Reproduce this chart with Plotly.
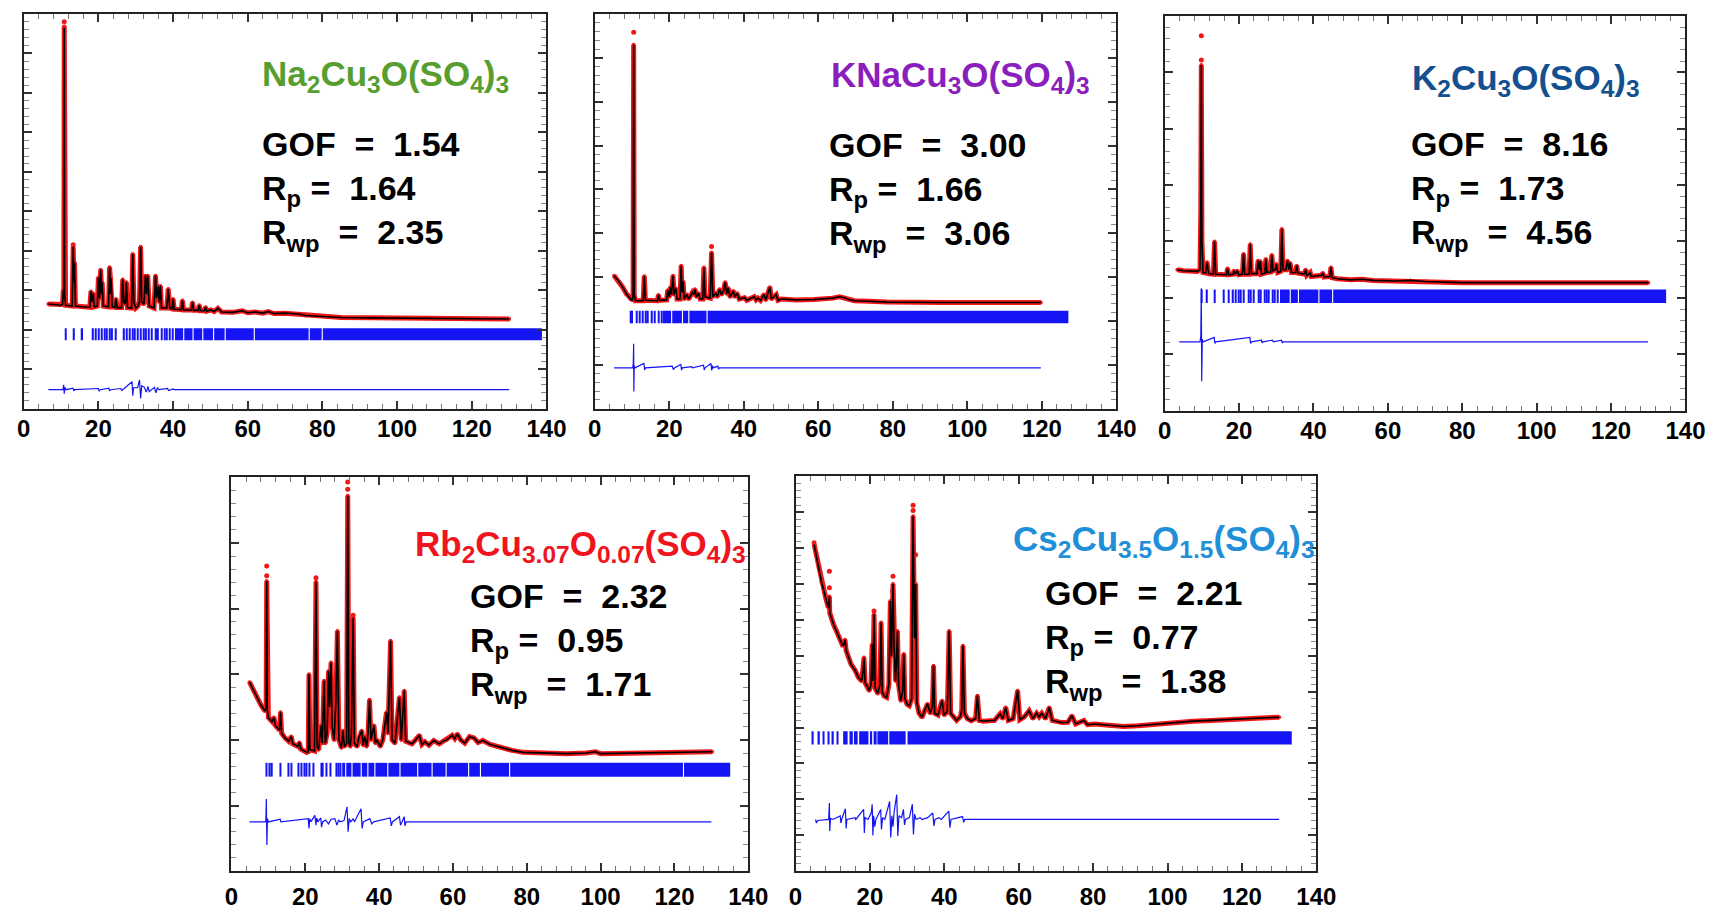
import plotly.graph_objects as go

W, H = 1735, 910

# ====================== DATA ======================
# y values are in each panel's own arbitrary intensity units

# ---- Panel 1: Na2Cu3O(SO4)3 ----
na_calc = [(6.6, 2.65), (9.8, 2.62), (10.4, 2.64), (10.6, 3.0), (10.75, 2.8), (10.85, 9.65), (10.95, 2.9),
           (11.2, 2.62), (13.0, 2.6), (13.25, 4.1), (13.45, 3.2), (13.6, 3.7), (13.85, 2.6), (15.5, 2.58),
           (17.7, 2.57), (18.0, 2.97), (18.3, 2.7), (18.6, 2.92), (18.9, 2.58), (19.7, 2.6), (20.0, 3.32),
           (20.3, 2.8), (20.6, 3.52), (20.85, 2.9), (21.0, 3.2), (21.3, 2.6), (22.7, 2.58), (23.0, 3.58),
           (23.25, 2.9), (23.4, 3.3), (23.7, 2.58), (24.4, 2.57), (24.7, 2.78), (25.0, 2.56), (26.2, 2.56),
           (26.5, 3.27), (26.8, 2.7), (27.2, 2.65), (27.5, 3.2), (27.8, 2.56), (28.9, 2.55), (29.2, 3.92),
           (29.5, 2.7), (30.0, 2.55), (30.6, 2.6), (31.0, 2.7), (31.3, 4.1), (31.6, 2.7), (32.2, 2.65),
           (32.6, 3.37), (32.9, 2.9), (33.2, 3.37), (33.6, 2.6), (34.9, 2.55), (35.3, 3.37), (35.6, 2.8),
           (36.0, 3.1), (36.3, 2.7), (36.6, 3.11), (36.9, 2.55), (38.3, 2.55), (38.7, 3.03), (39.1, 2.55),
           (39.7, 2.53), (40.0, 2.78), (40.3, 2.52), (42.2, 2.51), (42.5, 2.74), (42.8, 2.5), (44.9, 2.5),
           (45.2, 2.69), (45.5, 2.49), (46.7, 2.49), (47.0, 2.62), (47.3, 2.48), (48.4, 2.48), (48.7, 2.57),
           (49.0, 2.47), (50.1, 2.5), (51.0, 2.46), (52.0, 2.54), (53.0, 2.45), (56.0, 2.44), (58.5, 2.48),
           (60.0, 2.43), (62.0, 2.45), (64.0, 2.42), (65.5, 2.46), (67.0, 2.41), (70.0, 2.42), (73.6, 2.4),
           (75.5, 2.36), (80.0, 2.34), (85.0, 2.31), (93.0, 2.3), (103.0, 2.29), (115.0, 2.28), (130.0, 2.27)]
na_obs_extra = [(10.85, 9.8), (10.85, 9.67), (10.85, 8.13), (10.85, 7.9), (10.85, 6.0), (13.25, 4.15)]
na_diff = [(6.6, 0), (10.5, 0), (10.7, 0.12), (10.85, -0.1), (11.0, 0.06), (11.3, 0), (13.2, 0.04),
           (13.4, -0.03), (13.6, 0), (20.0, 0.03), (20.2, -0.03), (20.5, 0), (22.8, 0.04), (23.0, -0.03),
           (23.3, 0), (26.0, 0.03), (26.3, -0.02), (26.5, 0), (29.0, 0.2), (29.2, -0.15), (29.4, 0.05),
           (30.5, 0.05), (31.0, 0.25), (31.3, -0.22), (31.6, 0.1), (32.3, 0.06), (32.8, -0.06), (33.3, 0.08),
           (33.6, -0.05), (35.0, 0.06), (35.4, -0.08), (35.8, 0.05), (36.2, 0), (38.5, 0.03), (38.8, -0.02),
           (40.0, 0.02), (40.3, 0), (130.0, 0)]
na_ticks = [11.2, 13.5, 15.7, 18.6, 19.3, 20.1, 20.8, 21.6, 22.3, 23.1, 23.7, 24.7, 26.9, 27.6, 28.4,
            29.1, 29.8, 30.6, 31.4, 32.1, 32.8, 33.5, 34.3, 35.5, 36.0, 36.9, 37.7, 38.4, 39.2, 40.0]
na_band = [(40.5, 42.7), (43.0, 45.2), (45.5, 47.8), (48.1, 50.7), (51.0, 53.8), (54.1, 61.6),
           (61.9, 76.3), (76.6, 79.8), (80.1, 138.8)]

# ---- Panel 2: KNaCu3O(SO4)3 ----
kna_calc = [(5.2, 3.03), (6.5, 2.9), (7.5, 2.77), (8.5, 2.62), (9.6, 2.5), (10.1, 2.48), (10.3, 2.6),
            (10.45, 8.3), (10.6, 2.6), (10.9, 2.46), (13.0, 2.46), (13.3, 3.02), (13.6, 2.47), (16.8, 2.46),
            (17.1, 2.59), (17.4, 2.47), (19.3, 2.48), (19.6, 2.7), (20.0, 2.55), (20.3, 2.77), (20.6, 2.6),
            (21.0, 3.03), (21.3, 2.6), (21.8, 2.74), (22.1, 2.5), (22.9, 2.5), (23.2, 3.26), (23.45, 2.65),
            (23.7, 2.9), (24.0, 2.5), (24.7, 2.6), (25.2, 2.5), (25.9, 2.6), (26.2, 2.65), (26.6, 2.6),
            (26.9, 2.72), (27.3, 2.55), (27.8, 2.63), (28.3, 2.5), (29.0, 2.5), (29.3, 3.22), (29.6, 2.55),
            (31.0, 2.52), (31.35, 3.56), (31.7, 2.55), (32.2, 2.6), (32.5, 2.64), (32.9, 2.55), (33.5, 2.72),
            (34.0, 2.6), (34.6, 2.7), (35.0, 2.88), (35.4, 2.62), (35.8, 2.75), (36.3, 2.55), (37.2, 2.68),
            (37.6, 2.55), (38.2, 2.63), (38.8, 2.5), (40.2, 2.53), (40.8, 2.47), (42.8, 2.55), (43.3, 2.48),
            (43.8, 2.52), (44.5, 2.47), (45.4, 2.6), (45.9, 2.48), (47.0, 2.77), (47.4, 2.5), (48.7, 2.6),
            (49.2, 2.47), (50.1, 2.5), (54.0, 2.48), (58.9, 2.49), (62.0, 2.5), (63.8, 2.52), (65.7, 2.55),
            (67.0, 2.53), (68.2, 2.49), (69.7, 2.46), (73.6, 2.45), (78.4, 2.43), (93.0, 2.42), (119.7, 2.42)]
kna_obs_extra = [(10.45, 8.58), (10.45, 8.0), (10.45, 6.95), (10.45, 5.0), (31.35, 3.7)]
kna_diff = [(5.2, 0), (10.2, 0), (10.35, 0.1), (10.45, 0.55), (10.5, -0.54), (10.6, 0.05), (10.8, 0),
            (13.2, 0.1), (13.4, -0.05), (13.6, 0), (20.8, 0.04), (21.1, -0.04), (21.4, 0), (23.1, 0.08),
            (23.3, -0.05), (23.5, 0), (26.0, 0.03), (26.2, 0), (29.2, 0.06), (29.4, -0.05), (29.6, 0),
            (31.2, 0.1), (31.4, -0.06), (31.6, 0.05), (31.8, 0), (33.0, 0.04), (33.2, -0.03), (33.4, 0),
            (119.7, 0)]
kna_ticks = [9.6, 10.1, 11.2, 12.0, 12.8, 13.8, 14.3, 15.4, 16.1, 17.1, 17.9]
kna_band = [(18.3, 20.5), (20.8, 23.4), (23.7, 25.1), (25.4, 30.0), (30.3, 127.1)]

# ---- Panel 3: K2Cu3O(SO4)3 ----
k_calc = [(3.4, 2.5), (5.0, 2.48), (8.8, 2.47), (9.5, 2.5), (9.7, 3.5), (9.85, 6.13), (10.0, 3.0),
          (10.3, 2.45), (11.0, 2.44), (11.4, 2.63), (11.8, 2.43), (13.1, 2.42), (13.4, 3.0), (13.7, 2.42),
          (16.6, 2.41), (16.9, 2.52), (17.2, 2.41), (18.4, 2.42), (18.6, 2.48), (19.0, 2.42), (19.5, 2.48),
          (19.9, 2.41), (20.9, 2.42), (21.2, 2.78), (21.5, 2.42), (22.7, 2.42), (23.0, 2.95), (23.3, 2.43),
          (24.8, 2.43), (25.1, 2.66), (25.4, 2.5), (25.7, 2.65), (26.0, 2.42), (26.9, 2.44), (27.2, 2.69),
          (27.5, 2.45), (28.5, 2.46), (28.8, 2.76), (29.1, 2.48), (29.7, 2.5), (30.0, 2.6), (30.4, 2.45),
          (31.2, 2.47), (31.5, 3.22), (31.8, 2.5), (32.6, 2.5), (33.0, 2.66), (33.4, 2.5), (33.7, 2.62),
          (34.1, 2.45), (35.2, 2.45), (35.5, 2.57), (35.8, 2.44), (37.6, 2.42), (37.9, 2.5), (38.2, 2.4),
          (38.8, 2.42), (39.1, 2.45), (39.4, 2.38), (42.2, 2.4), (42.5, 2.44), (42.8, 2.37), (44.4, 2.38),
          (44.7, 2.54), (45.0, 2.36), (46.4, 2.34), (50.0, 2.32), (53.0, 2.33), (56.0, 2.31), (62.0, 2.3),
          (66.0, 2.31), (70.0, 2.29), (75.0, 2.28), (80.0, 2.27), (130.0, 2.27)]
k_obs_extra = [(9.85, 6.65), (9.85, 6.22), (9.85, 5.4), (9.85, 4.5)]
k_diff = [(3.9, 0), (9.5, 0), (9.7, 0.1), (9.85, 0.95), (9.95, -0.7), (10.1, 0.05), (10.3, 0),
          (13.3, 0.08), (13.5, -0.03), (13.7, 0), (22.9, 0.08), (23.1, -0.03), (23.3, 0), (26.0, 0.03),
          (26.2, -0.02), (26.4, 0), (29.0, 0.03), (29.2, 0), (31.4, 0.03), (31.6, -0.02), (31.8, 0),
          (129.9, 0)]
k_ticks = [9.96, 11.4, 13.4, 15.8, 17.3, 18.4, 19.1, 19.8, 20.5, 21.2, 22.5, 23.2, 23.9, 25.4, 25.9,
           26.9, 27.4, 28.0, 29.0, 29.6, 30.3]
k_band = [(31.0, 33.6), (33.9, 35.8), (36.1, 41.3), (41.6, 45.0), (45.3, 134.8)]

# ---- Panel 4: Rb2Cu3.07O0.07(SO4)3 ----
rb_calc = [(4.9, 2.88), (6.0, 2.75), (7.1, 2.62), (8.1, 2.52), (9.1, 2.44), (9.4, 2.5), (9.55, 4.42),
           (9.7, 2.45), (10.0, 2.34), (11.0, 2.28), (11.5, 2.34), (11.9, 2.22), (13.0, 2.15), (13.3, 2.42),
           (13.6, 2.1), (14.5, 2.03), (15.5, 1.98), (16.2, 2.05), (16.6, 1.94), (18.0, 1.9), (18.4, 1.96),
           (18.8, 1.86), (19.4, 1.84), (20.4, 1.81), (20.8, 1.82), (21.0, 3.0), (21.25, 1.85), (22.5, 1.83),
           (22.9, 4.41), (23.2, 1.9), (23.6, 1.85), (24.3, 2.22), (24.6, 1.95), (25.1, 2.9), (25.4, 1.95),
           (25.9, 2.1), (26.3, 3.05), (26.6, 2.5), (26.97, 3.18), (27.3, 2.2), (27.8, 2.0), (28.3, 2.6),
           (28.7, 3.66), (29.1, 2.0), (29.8, 1.88), (30.2, 2.14), (30.6, 1.9), (31.2, 1.95), (31.5, 5.72),
           (31.8, 1.95), (32.2, 1.9), (32.5, 2.1), (32.97, 3.86), (33.3, 1.95), (34.0, 1.9), (34.6, 2.05),
           (35.3, 2.14), (35.7, 1.92), (36.1, 2.05), (36.6, 1.9), (37.0, 2.1), (37.4, 2.61), (37.8, 2.0),
           (38.6, 2.22), (39.0, 1.95), (39.4, 2.0), (40.3, 1.9), (41.0, 2.0), (42.0, 2.42), (42.4, 2.1),
           (43.1, 3.51), (43.5, 2.0), (44.3, 1.95), (45.5, 2.65), (46.0, 2.0), (46.8, 2.75), (47.2, 1.98),
           (48.9, 1.94), (49.6, 1.98), (50.9, 2.07), (51.6, 1.93), (52.4, 1.97), (53.5, 1.92), (54.8, 1.99),
           (56.3, 1.94), (57.3, 1.98), (58.3, 2.0), (59.8, 2.07), (60.5, 2.02), (61.2, 2.09), (62.1, 2.0),
           (63.2, 1.95), (64.5, 2.05), (65.7, 2.03), (66.8, 1.96), (68.1, 1.99), (70.1, 1.93), (73.1, 1.88),
           (76.0, 1.84), (79.0, 1.81), (82.9, 1.8), (90.8, 1.79), (96.0, 1.8), (98.6, 1.82), (100.0, 1.79),
           (110.5, 1.8), (120.3, 1.81), (130.2, 1.82)]
rb_obs_extra = [(31.5, 5.93), (31.5, 5.82), (9.55, 4.65), (9.55, 4.5), (22.9, 4.47), (32.97, 3.9)]
rb_diff = [(4.9, 0), (9.3, 0), (9.45, 0.35), (9.6, -0.35), (9.75, 0.05), (10.0, 0), (11.5, 0.02),
           (13.2, 0.04), (13.4, 0), (20.8, 0.05), (21.0, -0.1), (21.2, 0.05), (21.5, 0), (22.6, 0.1),
           (22.9, -0.05), (23.1, 0.06), (23.4, 0), (24.2, 0.06), (24.4, -0.08), (24.7, 0), (25.5, 0.03),
           (26.3, -0.03), (27.0, 0.04), (28.0, 0.05), (28.6, -0.05), (29.0, 0.03), (29.4, 0), (30.5, 0.02),
           (31.3, 0.23), (31.6, -0.15), (31.9, 0.05), (32.3, 0), (33.0, 0.05), (33.3, 0), (35.1, 0.2),
           (35.4, -0.1), (35.7, 0), (37.5, 0.05), (38.0, -0.03), (38.5, 0), (43.0, 0.06), (43.3, -0.06),
           (43.6, 0), (45.5, 0.08), (45.8, -0.05), (46.8, 0.08), (47.0, -0.06), (47.3, 0), (130.0, 0)]
rb_ticks = [9.55, 10.2, 11.0, 13.3, 15.5, 16.2, 18.2, 18.9, 19.7, 20.4, 21.1, 22.3, 24.3, 24.8, 25.8,
            26.8, 28.5, 28.9, 29.5]
rb_band = [(30.0, 30.8), (31.1, 32.5), (32.8, 35.0), (35.3, 36.8), (37.1, 38.7), (39.0, 42.2),
           (42.5, 45.5), (45.8, 50.3), (50.6, 54.2), (54.5, 58.0), (58.3, 64.1), (64.4, 67.3),
           (67.6, 75.2), (75.5, 122.3), (122.6, 135.1)]

# ---- Panel 5: Cs2Cu3.5O1.5(SO4)3 ----
cs_calc = [(5.0, 9.1), (5.5, 8.85), (6.2, 8.45), (7.0, 8.05), (8.1, 7.62), (8.8, 7.35), (9.0, 7.5),
           (9.1, 7.65), (9.2, 7.2), (9.6, 7.05), (10.3, 6.85), (11.0, 6.69), (12.0, 6.45), (12.6, 6.3),
           (13.0, 6.3), (13.3, 6.45), (13.6, 6.15), (14.2, 5.95), (14.9, 5.77), (16.0, 5.6), (16.9, 5.4),
           (17.8, 5.3), (18.2, 5.6), (18.4, 5.95), (18.7, 5.25), (19.3, 5.15), (19.8, 5.03), (20.3, 5.2),
           (20.6, 6.32), (20.8, 5.3), (21.1, 7.16), (21.4, 5.1), (22.1, 4.95), (22.7, 5.2), (23.0, 6.93),
           (23.3, 5.0), (23.8, 4.88), (24.5, 4.84), (25.1, 5.2), (25.5, 7.53), (25.8, 6.0), (26.2, 8.0),
           (26.5, 6.2), (26.9, 5.3), (27.4, 6.69), (27.7, 5.2), (28.3, 4.75), (28.8, 5.0), (29.1, 6.05),
           (29.4, 4.8), (30.0, 4.65), (30.6, 4.61), (31.2, 4.8), (31.6, 9.89), (32.0, 6.5), (32.3, 8.0),
           (32.6, 4.7), (33.2, 4.4), (34.0, 4.29), (34.8, 4.5), (35.5, 4.66), (36.2, 4.4), (36.8, 4.6),
           (37.1, 5.72), (37.4, 4.4), (38.3, 4.35), (39.4, 4.75), (39.9, 4.35), (40.8, 4.45), (41.3, 6.69),
           (41.7, 4.4), (42.5, 4.3), (43.3, 4.2), (44.3, 4.3), (44.7, 4.5), (45.0, 6.28), (45.4, 4.4),
           (46.2, 4.25), (47.2, 4.19), (48.4, 4.25), (48.9, 4.89), (49.4, 4.2), (50.5, 4.18), (52.1, 4.19),
           (53.5, 4.2), (55.0, 4.38), (55.7, 4.25), (56.5, 4.56), (57.2, 4.2), (58.5, 4.25), (59.7, 5.03),
           (60.3, 4.22), (61.5, 4.3), (62.8, 4.47), (63.8, 4.25), (64.8, 4.4), (65.5, 4.3), (66.2, 4.4),
           (67.2, 4.25), (68.2, 4.56), (69.0, 4.2), (71.6, 4.14), (73.2, 4.15), (74.3, 4.33), (75.3, 4.1),
           (77.5, 4.2), (78.5, 4.08), (80.4, 4.1), (84.3, 4.06), (88.2, 4.03), (92.1, 4.05), (97.0, 4.1),
           (101.9, 4.13), (106.8, 4.18), (111.7, 4.2), (116.5, 4.22), (121.4, 4.24), (130.0, 4.29)]
cs_obs_extra = [(31.6, 10.2), (31.6, 10.05), (26.2, 8.22), (26.1, 7.8), (25.9, 7.2), (9.1, 8.36),
                (9.1, 7.9), (5.0, 9.15), (32.3, 8.82), (21.1, 7.25)]
cs_diff = [(5.4, 0), (5.6, -0.1), (6.0, -0.03), (8.9, 0), (9.1, 0.46), (9.2, -0.32), (9.4, 0.03),
           (10.0, 0), (12.0, 0.1), (12.2, -0.1), (12.4, 0), (13.4, 0.3), (13.6, -0.25), (13.8, 0),
           (16.0, 0.05), (16.2, 0), (18.3, 0.28), (18.5, -0.38), (18.7, 0.05), (19.5, 0), (20.4, 0.2),
           (20.6, 0.42), (20.8, -0.45), (21.0, 0.1), (21.3, -0.2), (21.6, 0), (22.0, 0.08), (22.9, 0.28),
           (23.1, -0.28), (23.4, 0.05), (24.0, 0), (25.3, 0.5), (25.6, -0.5), (25.9, 0.1), (26.2, -0.2),
           (26.5, 0.2), (27.2, 0.69), (27.5, -0.46), (27.8, 0.1), (28.5, 0.05), (29.0, 0.28), (29.3, -0.15),
           (29.6, 0), (30.6, 0.05), (31.4, 0.42), (31.7, -0.42), (32.0, 0.15), (32.4, 0), (33.5, 0.05),
           (34.0, 0), (35.5, 0.05), (36.9, 0.18), (37.2, -0.18), (37.5, 0), (38.5, 0.05), (39.2, 0),
           (41.2, 0.23), (41.5, -0.23), (41.8, 0), (44.9, 0.08), (45.2, -0.08), (45.5, 0), (130.0, 0)]
cs_ticks = [4.7, 6.35, 7.6, 8.9, 10.1, 11.2]
cs_band = [(12.8, 14.0), (14.5, 15.4), (15.7, 16.7), (17.1, 19.6), (20.0, 20.6), (21.0, 21.8),
           (22.0, 24.9), (25.2, 29.6), (30.1, 133.4)]

formulas = [
    "Na<sub>2</sub>Cu<sub>3</sub>O(SO<sub>4</sub>)<sub>3</sub>",
    "KNaCu<sub>3</sub>O(SO<sub>4</sub>)<sub>3</sub>",
    "K<sub>2</sub>Cu<sub>3</sub>O(SO<sub>4</sub>)<sub>3</sub>",
    "Rb<sub>2</sub>Cu<sub>3.07</sub>O<sub>0.07</sub>(SO<sub>4</sub>)<sub>3</sub>",
    "Cs<sub>2</sub>Cu<sub>3.5</sub>O<sub>1.5</sub>(SO<sub>4</sub>)<sub>3</sub>",
]
gof_values = ["1.54", "3.00", "8.16", "2.32", "2.21"]
rp_values = ["1.64", "1.66", "1.73", "0.95", "0.77"]
rwp_values = ["2.35", "3.06", "4.56", "1.71", "1.38"]
x_tick_values = [0, 20, 40, 60, 80, 100, 120, 140]
x_tick_labels = ["0", "20", "40", "60", "80", "100", "120", "140"]

# ====================== LAYOUT / STYLE ======================
formula_colors = ["#579e2e", "#8a1fbd", "#14508f", "#f0141e", "#1f8fd8"]
RED = "#f01818"
BLUE = "#1414f5"
FONT = "Liberation Sans, Arial, sans-serif"

panels = [
    dict(calc=na_calc, extra=na_obs_extra, diff=na_diff, ticks=na_ticks, band=na_band),
    dict(calc=kna_calc, extra=kna_obs_extra, diff=kna_diff, ticks=kna_ticks, band=kna_band),
    dict(calc=k_calc, extra=k_obs_extra, diff=k_diff, ticks=k_ticks, band=k_band),
    dict(calc=rb_calc, extra=rb_obs_extra, diff=rb_diff, ticks=rb_ticks, band=rb_band),
    dict(calc=cs_calc, extra=cs_obs_extra, diff=cs_diff, ticks=cs_ticks, band=cs_band),
]
# pixel boxes (x0, x1, ytop, ybottom), number of y units, tick row, diff baseline, text positions
geo = [
    dict(box=(17, 548, 14, 410), n=10, tlo=1.73, thi=2.04, dbase=0.48, form=(257, 60), stat=(257, 131),
         standoff=-2),
    dict(box=(597, 1127, 14, 410), n=9, tlo=1.95, thi=2.23, dbase=0.93, form=(835, 61), stat=(833, 132),
         standoff=-2),
    dict(box=(1176, 1705, 16, 412), n=7, tlo=1.91, thi=2.15, dbase=1.22, form=(1425, 64), stat=(1424, 131),
         standoff=-2),
    dict(box=(228, 753, 479, 874), n=6, tlo=1.44, thi=1.65, dbase=0.75, form=(412, 532), stat=(468, 585),
         standoff=3),
    dict(box=(801, 1330, 478, 874), n=11, tlo=3.53, thi=3.90, dbase=1.44, form=(1020, 527), stat=(1052, 582),
         standoff=3),
]


def unzip(pairs):
    return [p[0] for p in pairs], [p[1] for p in pairs]


fig = go.Figure()
annotations = []
NB = "\u00a0"

for i, (p, g) in enumerate(zip(panels, geo)):
    sfx = "" if i == 0 else str(i + 1)
    xa, ya = "x" + sfx, "y" + sfx
    cx, cy = unzip(p["calc"])
    # observed (red halo + dots)
    fig.add_trace(go.Scatter(x=cx, y=cy, xaxis=xa, yaxis=ya, mode="lines+markers",
                             line=dict(color=RED, width=5), marker=dict(color=RED, size=4)))
    ex, ey = unzip(p["extra"])
    fig.add_trace(go.Scatter(x=ex, y=ey, xaxis=xa, yaxis=ya, mode="markers",
                             marker=dict(color=RED, size=5)))
    # calculated
    fig.add_trace(go.Scatter(x=cx, y=cy, xaxis=xa, yaxis=ya, mode="lines",
                             line=dict(color="black", width=1.6)))
    # Bragg positions
    h = g["thi"] - g["tlo"]
    fig.add_trace(go.Bar(x=p["ticks"], y=[h] * len(p["ticks"]), base=g["tlo"], width=0.35,
                         xaxis=xa, yaxis=ya, marker=dict(color=BLUE, line=dict(width=0))))
    bx = [(a + b) / 2 for a, b in p["band"]]
    bw = [b - a for a, b in p["band"]]
    fig.add_trace(go.Bar(x=bx, y=[h] * len(bx), base=g["tlo"], width=bw,
                         xaxis=xa, yaxis=ya, marker=dict(color=BLUE, line=dict(width=0))))
    # difference
    dx, dy = unzip(p["diff"])
    fig.add_trace(go.Scatter(x=dx, y=[v + g["dbase"] for v in dy], xaxis=xa, yaxis=ya, mode="lines",
                             line=dict(color=BLUE, width=1.2)))

    x0, x1, yt, yb = g["box"]
    fig.layout["xaxis" + sfx] = dict(
        domain=[x0 / W, x1 / W], range=[0, 140], anchor=ya, showgrid=False, zeroline=False,
        showline=True, linecolor="#222", linewidth=2, mirror="ticks",
        ticks="inside", ticklen=8, tickwidth=1.5, tickcolor="#333",
        tickvals=x_tick_values, ticktext=x_tick_labels,
        tickfont=dict(family=FONT, size=24, color="black", weight="bold"),
        ticklabelstandoff=g["standoff"],
        minor=dict(ticks="inside", ticklen=5, dtick=4, tickcolor="#777", tickwidth=1),
    )
    fig.layout["yaxis" + sfx] = dict(
        domain=[1 - yb / H, 1 - yt / H], range=[0, g["n"]], anchor=xa, showgrid=False, zeroline=False,
        showline=True, linecolor="#222", linewidth=2, mirror="ticks",
        ticks="inside", ticklen=8, tickwidth=1.5, tickcolor="#333", dtick=1, tick0=0,
        showticklabels=False,
        minor=dict(ticks="inside", ticklen=5, dtick=0.2, tickcolor="#888", tickwidth=1),
    )

    fx, fy = g["form"]
    annotations.append(dict(
        text="<b>" + formulas[i] + "</b>", x=fx / W, y=1 - (fy - 8) / H, xref="paper", yref="paper",
        xanchor="left", yanchor="top", showarrow=False, align="left",
        font=dict(family=FONT, size=35, color=formula_colors[i])))
    sx, sy = g["stat"]
    stat_text = ("<b>GOF" + NB * 2 + "=" + NB * 2 + gof_values[i] + "</b><br>"
                 "<b>R<sub>p</sub>" + NB + "=" + NB * 2 + rp_values[i] + "</b><br>"
                 "<b>R<sub>wp</sub>" + NB * 2 + "=" + NB * 2 + rwp_values[i] + "</b>")
    annotations.append(dict(
        text=stat_text, x=sx / W, y=1 - (sy - 8) / H, xref="paper", yref="paper",
        xanchor="left", yanchor="top", showarrow=False, align="left",
        font=dict(family=FONT, size=34, color="black")))

fig.update_layout(
    width=W, height=H, margin=dict(l=0, r=0, t=0, b=0),
    paper_bgcolor="white", plot_bgcolor="white",
    showlegend=False, barmode="overlay", hovermode=False,
    annotations=annotations,
)

fig.write_html("out.html", config={"displayModeBar": False},
               post_script="document.body.style.margin='0px';document.body.style.overflow='hidden';")
